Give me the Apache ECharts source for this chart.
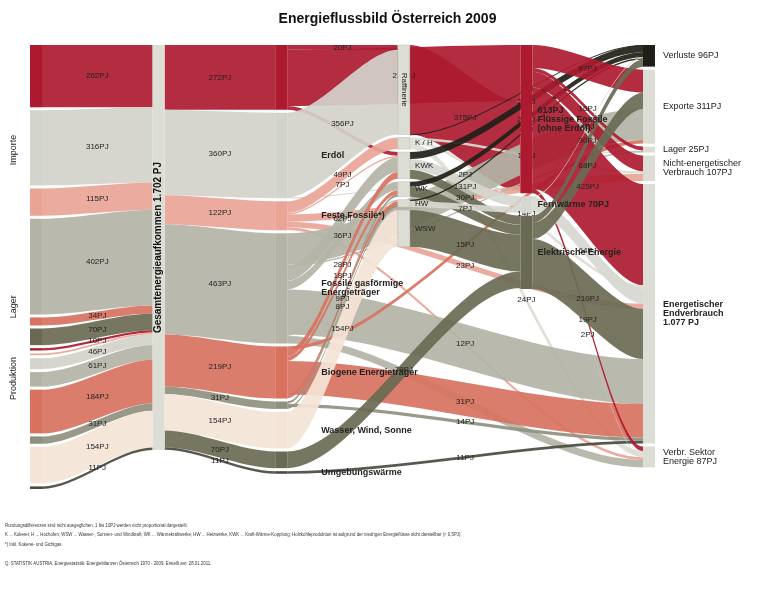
<!DOCTYPE html>
<html>
<head>
<meta charset="utf-8">
<title>Energieflussbild Österreich 2009</title>
<script src="https://cdn.jsdelivr.net/npm/echarts@6/dist/echarts.min.js"></script>
<style>
  html, body { margin: 0; padding: 0; background: #fff; }
  #main { width: 775px; height: 589px; }
</style>
</head>
<body>
<div id="main"></div>
<script>
// Aufkommen nach Herkunft: [Herkunft, Energieträger, PJ]
const aufkommen = [
  ["Importe", "Flüssige Fossile", 262],
  ["Importe", "Erdöl", 316],
  ["Importe", "Feste Fossile*)", 115],
  ["Importe", "Fossile gasförmige Energieträger", 402],
  ["Importe", "Biogene Energieträger", 34],
  ["Importe", "Elektrische Energie (Import)", 70],
  ["Lager", "Flüssige Fossile", 10],
  ["Lager", "Feste Fossile*)", 7],
  ["Produktion", "Erdöl", 46],
  ["Produktion", "Fossile gasförmige Energieträger", 61],
  ["Produktion", "Biogene Energieträger", 184],
  ["Produktion", "Brennbare Abfälle", 31],
  ["Produktion", "Wasser, Wind, Sonne", 154],
  ["Produktion", "Umgebungswärme", 11]
];

// Gesamtenergieaufkommen -> Energieträger (PJ)
const primaer = [
  ["Flüssige Fossile", 272],
  ["Erdöl", 360],
  ["Feste Fossile*)", 122],
  ["Fossile gasförmige Energieträger", 463],
  ["Biogene Energieträger", 219],
  ["Brennbare Abfälle", 31],
  ["Wasser, Wind, Sonne", 154],
  ["Elektrische Energie (Import)", 70],
  ["Umgebungswärme", 11]
];

const umwandlung = ["Raffinerie", "K / H", "KWK", "WK", "HW", "WSW"];
const sekundaer = ["Flüssige Fossile (ohne Erdöl)", "Fernwärme", "Elektrische Energie"];
const verwendung = ["Verluste", "Exporte", "Lager ", "Nicht-energetischer Verbrauch",
  "Energetischer Endverbrauch", "Verbr. Sektor Energie"];

// weitere Flüsse: [von, nach, PJ]
const fluesse = [
  ["Flüssige Fossile", "Raffinerie", 20],
  ["Flüssige Fossile", "KWK", 15],
  ["Flüssige Fossile", "Flüssige Fossile (ohne Erdöl)", 237],
  ["Erdöl", "Raffinerie", 356],
  ["Erdöl", "Lager ", 2],
  ["Raffinerie", "Flüssige Fossile (ohne Erdöl)", 375],
  ["Raffinerie", "Verluste", 1],
  ["Feste Fossile*)", "K / H", 49],
  ["Feste Fossile*)", "KWK", 7],
  ["Feste Fossile*)", "Nicht-energetischer Verbrauch", 30],
  ["Feste Fossile*)", "Energetischer Endverbrauch", 23],
  ["Feste Fossile*)", "Verbr. Sektor Energie", 12],
  ["K / H", "Nicht-energetischer Verbrauch", 11],
  ["K / H", "Energetischer Endverbrauch", 14],
  ["K / H", "Verbr. Sektor Energie", 24],
  ["Fossile gasförmige Energieträger", "KWK", 62],
  ["Fossile gasförmige Energieträger", "WK", 36],
  ["Fossile gasförmige Energieträger", "HW", 7],
  ["Fossile gasförmige Energieträger", "Exporte", 131],
  ["Fossile gasförmige Energieträger", "Lager ", 7],
  ["Fossile gasförmige Energieträger", "Energetischer Endverbrauch", 189],
  ["Fossile gasförmige Energieträger", "Verbr. Sektor Energie", 31],
  ["Biogene Energieträger", "KWK", 28],
  ["Biogene Energieträger", "WK", 18],
  ["Biogene Energieträger", "HW", 16],
  ["Biogene Energieträger", "Exporte", 15],
  ["Biogene Energieträger", "Energetischer Endverbrauch", 141],
  ["Brennbare Abfälle", "WK", 9],
  ["Brennbare Abfälle", "HW", 8],
  ["Brennbare Abfälle", "Energetischer Endverbrauch", 14],
  ["Wasser, Wind, Sonne", "WSW", 154],
  ["Elektrische Energie (Import)", "Elektrische Energie", 70],
  ["Umgebungswärme", "Energetischer Endverbrauch", 11],
  ["KWK", "Elektrische Energie", 38],
  ["KWK", "Fernwärme", 45],
  ["KWK", "Verluste", 29],
  ["WK", "Elektrische Energie", 42],
  ["WK", "Verluste", 21],
  ["HW", "Fernwärme", 25],
  ["HW", "Verluste", 6],
  ["WSW", "Elektrische Energie", 154],
  ["Flüssige Fossile (ohne Erdöl)", "Exporte", 97],
  ["Flüssige Fossile (ohne Erdöl)", "Lager ", 16],
  ["Flüssige Fossile (ohne Erdöl)", "Nicht-energetischer Verbrauch", 66],
  ["Flüssige Fossile (ohne Erdöl)", "Energetischer Endverbrauch", 425],
  ["Flüssige Fossile (ohne Erdöl)", "Verbr. Sektor Energie", 19],
  ["Fernwärme", "Energetischer Endverbrauch", 64],
  ["Fernwärme", "Verbr. Sektor Energie", 2],
  ["Fernwärme", "Verluste", 4],
  ["Elektrische Energie", "Exporte", 68],
  ["Elektrische Energie", "Energetischer Endverbrauch", 210],
  ["Elektrische Energie", "Verluste", 30]
];

// Beschriftungen der Knoten
const knotenText = {
  "Gesamt": "Gesamtenergieaufkommen 1.702 PJ",
  "Flüssige Fossile": "",
  "Erdöl": "Erdöl",
  "Feste Fossile*)": "Feste Fossile*)",
  "Fossile gasförmige Energieträger": "Fossile gasförmige\nEnergieträger",
  "Biogene Energieträger": "Biogene Energieträger",
  "Brennbare Abfälle": "",
  "Wasser, Wind, Sonne": "Wasser, Wind, Sonne",
  "Elektrische Energie (Import)": "",
  "Umgebungswärme": "Umgebungswärme",
  "Raffinerie": "Raffinerie",
  "K / H": "K / H",
  "KWK": "KWK",
  "WK": "WK",
  "HW": "HW",
  "WSW": "WSW",
  "Flüssige Fossile (ohne Erdöl)": "613PJ\nFlüssige Fossile\n(ohne Erdöl)",
  "Fernwärme": "Fernwärme 70PJ",
  "Elektrische Energie": "Elektrische Energie",
  "Verluste": "Verluste 96PJ",
  "Exporte": "Exporte 311PJ",
  "Lager ": "Lager 25PJ",
  "Nicht-energetischer Verbrauch": "Nicht-energetischer\nVerbrauch 107PJ",
  "Energetischer Endverbrauch": "Energetischer\nEndverbrauch\n1.077 PJ",
  "Verbr. Sektor Energie": "Verbr. Sektor\nEnergie 87PJ"
};

const farbe = {
  "Flüssige Fossile": "#ad1a2f",
  "Erdöl": "#d2d3cb",
  "Feste Fossile*)": "#e9a496",
  "Fossile gasförmige Energieträger": "#b3b4a6",
  "Biogene Energieträger": "#d8725f",
  "Brennbare Abfälle": "#8f907f",
  "Wasser, Wind, Sonne": "#f4e4d7",
  "Elektrische Energie (Import)": "#6a6a54",
  "Umgebungswärme": "#4a4a40",
  "Flüssige Fossile (ohne Erdöl)": "#ad1a2f",
  "Fernwärme": "#d6d7cf",
  "Elektrische Energie": "#6a6a54",
  "Verluste": "#1f1f18",
  "grau": "#dcddd5"
};

const fontFamily = "'Liberation Sans', Arial, sans-serif";

const nodes = [];
const links = [];

aufkommen.forEach(function (a) {
  const id = a[0] + " · " + a[1];
  nodes.push({ name: id, depth: 0, itemStyle: { color: farbe[a[1]] }, label: { show: false }, gruppe: a[0] });
  links.push({ source: id, target: "Gesamt", value: a[2], lineStyle: { color: farbe[a[1]] } });
});

nodes.push({
  name: "Gesamt", depth: 1, itemStyle: { color: farbe.grau },
  label: { position: "inside", rotate: 90, fontWeight: "bold", fontSize: 10, color: "#111" }
});

primaer.forEach(function (p) {
  nodes.push({
    name: p[0], depth: 2, itemStyle: { color: farbe[p[0]] },
    label: { position: "right", distance: 34, fontWeight: "bold", fontSize: 9, color: "#222", align: "left" }
  });
  links.push({ source: "Gesamt", target: p[0], value: p[1], lineStyle: { color: farbe[p[0]] } });
});

umwandlung.forEach(function (u) {
  const raff = u === "Raffinerie";
  nodes.push({
    name: u, depth: 3, itemStyle: { color: farbe.grau, borderColor: "#b8b9b0", borderWidth: 0.5 },
    label: raff
      ? { position: "inside", rotate: -90, fontSize: 8, color: "#222" }
      : { position: "right", fontSize: 8, color: "#222" }
  });
});

sekundaer.forEach(function (s) {
  nodes.push({
    name: s, depth: 4, itemStyle: { color: farbe[s] },
    label: { position: "right", fontSize: 9, color: "#222", fontWeight: "bold" }
  });
});

verwendung.forEach(function (v) {
  nodes.push({
    name: v, depth: 5, itemStyle: { color: v === "Verluste" ? farbe.Verluste : farbe.grau },
    label: {
      position: "right", fontSize: 9, color: "#222", distance: 8,
      fontWeight: v === "Energetischer Endverbrauch" ? "bold" : "normal"
    }
  });
});

fluesse.forEach(function (f) {
  // Farbe des transportierten Energieträgers
  const traeger = umwandlung.indexOf(f[0]) >= 0 ? f[1] : f[0];
  links.push({
    source: f[0], target: f[1], value: f[2],
    lineStyle: { color: farbe[traeger] || farbe.grau }
  });
});

const chart = echarts.init(document.getElementById("main"), null, { renderer: "canvas" });

const fussnoten = [
  "Rundungsdifferenzen sind nicht ausgeglichen. 1 bis 10PJ werden nicht proportional dargestellt.",
  "K ... Kokerei; H ... Hochofen; WSW ... Wasser-, Sonnen- und Windkraft; WK ... Wärmekraftwerke; HW ... Heizwerke; KWK ... Kraft-Wärme-Kopplung; Holzkohleproduktion ist aufgrund der niedrigen Energieflüsse nicht darstellbar (< 0,5PJ).",
  "*) Inkl. Kokerei- und Gichtgas",
  "",
  "Q: STATISTIK AUSTRIA, Energiestatistik: Energiebilanzen Österreich 1970 - 2009. Erstellt am: 28.01.2011."
];

chart.setOption({
  backgroundColor: "#fff",
  animation: false,
  textStyle: { fontFamily: fontFamily },
  title: {
    text: "Energieflussbild Österreich 2009",
    left: "center",
    top: 7,
    textStyle: { fontSize: 14, fontWeight: "bold", color: "#111", fontFamily: fontFamily }
  },
  series: [{
    type: "sankey",
    left: 30,
    right: 120,
    top: 45,
    bottom: 100,
    nodeWidth: 12,
    nodeGap: 3,
    layoutIterations: 0,
    draggable: false,
    emphasis: { disabled: true },
    data: nodes,
    links: links,
    label: {
      fontFamily: fontFamily,
      formatter: function (p) { return knotenText[p.name] !== undefined ? knotenText[p.name] : p.name; }
    },
    edgeLabel: {
      show: true,
      fontSize: 8,
      color: "#222",
      fontFamily: fontFamily,
      formatter: function (p) { return p.value + "PJ"; }
    },
    // nur die Flusswerte dürfen bei Überlappung entfallen
    labelLayout: function (params) {
      return { hideOverlap: params.dataType === "edge" };
    },
    lineStyle: { opacity: 0.92, curveness: 0.3 }
  }]
});

// Herkunftsgruppen links beschriften (Lage aus dem Sankey-Layout)
const knotenDaten = chart.getModel().getSeriesByIndex(0).getData();
const gruppen = ["Importe", "Lager", "Produktion"];
const gruppenText = gruppen.map(function (g) {
  let y0 = Infinity, y1 = -Infinity;
  nodes.forEach(function (n, i) {
    if (n.gruppe === g) {
      const l = knotenDaten.getItemLayout(i);
      y0 = Math.min(y0, l.y);
      y1 = Math.max(y1, l.y + l.dy);
    }
  });
  return {
    id: "gruppe-" + g, type: "text", x: 14, y: (y0 + y1) / 2, rotation: Math.PI / 2,
    style: { text: g, fontSize: 9, fill: "#222", align: "center", verticalAlign: "middle", fontFamily: fontFamily }
  };
});
const fussText = fussnoten.map(function (t, i) {
  return {
    id: "fuss-" + i, type: "text", x: 5, y: 522 + i * 9.5, scaleX: 0.75,
    style: { text: t, fontSize: 5.8, fill: "#333", fontFamily: fontFamily }
  };
});
chart.setOption({ graphic: gruppenText.concat(fussText) });
</script>
</body>
</html>
